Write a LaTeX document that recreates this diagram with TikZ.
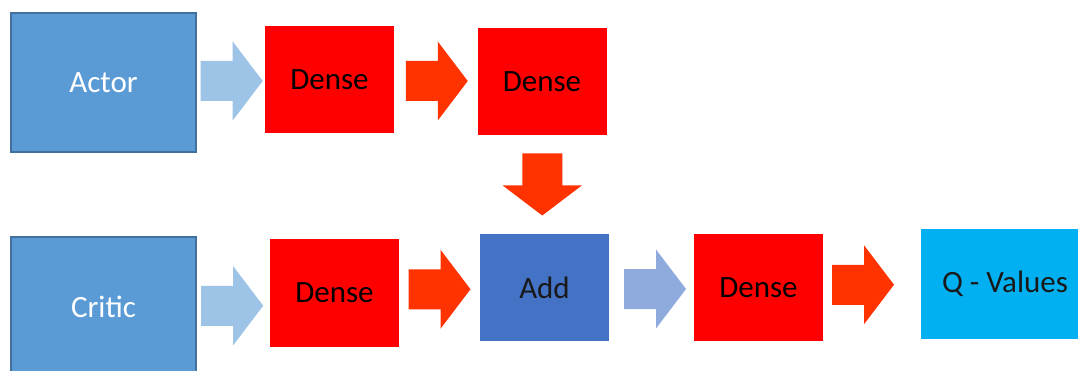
\documentclass[tikz,border=0pt]{standalone}
\usepackage{fontspec}
\setmainfont{Carlito}
\usetikzlibrary{calc}

\definecolor{inputblue}{HTML}{5B9BD5}
\definecolor{inputedge}{HTML}{41719C}
\definecolor{denseRed}{HTML}{FF0000}
\definecolor{arrowRed}{HTML}{FF3300}
\definecolor{paleBlue}{HTML}{9DC3E6}
\definecolor{lavBlue}{HTML}{8FAADC}
\definecolor{addBlue}{HTML}{4472C4}
\definecolor{qCyan}{HTML}{00B0F0}

\tikzset{
  box/.style={rectangle, inner sep=0pt, anchor=center,
    font=\fontsize{31}{36}\selectfont},
  inputbox/.style={box, fill=inputblue, draw=inputedge, line width=1.2pt,
    text=white, minimum width=185pt, minimum height=139pt},
  densebox/.style={box, fill=denseRed, text=black,
    minimum width=129pt, minimum height=107pt},
  addbox/.style={box, fill=addBlue, text=black!90,
    minimum width=129pt, minimum height=107pt},
  outbox/.style={box, fill=qCyan, text=black!90,
    minimum width=168pt, minimum height=110pt},
  % fat block arrow, pointing along +x, centred on its placement point
  pics/blockarrow/.style={code={
    \fill[#1] (-31,-20) -- (1,-20) -- (1,-39.5) -- (31,0)
      -- (1,39.5) -- (1,20) -- (-31,20) -- cycle;}}
}

\begin{document}
\begin{tikzpicture}[x=1pt, y=-1pt]
  \fill[white] (0,0) rectangle (1078,371);
  \clip (0,0) rectangle (1078,371);

  % actor branch
  \node[inputbox] (actor) at (103.5,82.5) {Actor};
  \node[densebox] (ad1) at (329.5,79.5) {Dense};
  \node[densebox] (ad2) at (542,81.5) {Dense};

  % critic branch
  \node[inputbox] (critic) at (103.5,306.5) {Critic};
  \node[densebox] (cd1) at (334.5,293) {Dense};
  \node[addbox]   (add) at (544.5,287.5) {Add};
  \node[densebox] (cd2) at (758.5,287.5) {Dense};
  \node[outbox]   (q) at (1005,284) {Q - Values};

  % block arrows between the layers
  \pic at ($(actor.east)!0.5!(ad1.west)+(1,0)$) {blockarrow=paleBlue};
  \pic at ($(ad1.east)!0.5!(ad2.west)+(1,0.5)$) {blockarrow=arrowRed};
  \pic[rotate=-90] at ($(ad2.south)!0.5!(add.north)+(-1,0)$) {blockarrow=arrowRed};
  \pic at ($(critic.east)!0.5!(cd1.west)+(-1,6)$) {blockarrow=paleBlue};
  \pic at ($(cd1.east)!0.5!(add.west)+(0,-1)$) {blockarrow=arrowRed};
  \pic at ($(add.east)!0.5!(cd2.west)+(3.5,1.5)$) {blockarrow=lavBlue};
  \pic at ($(cd2.east)!0.5!(q.west)+(-9,-1)$) {blockarrow=arrowRed};
\end{tikzpicture}
\end{document}
